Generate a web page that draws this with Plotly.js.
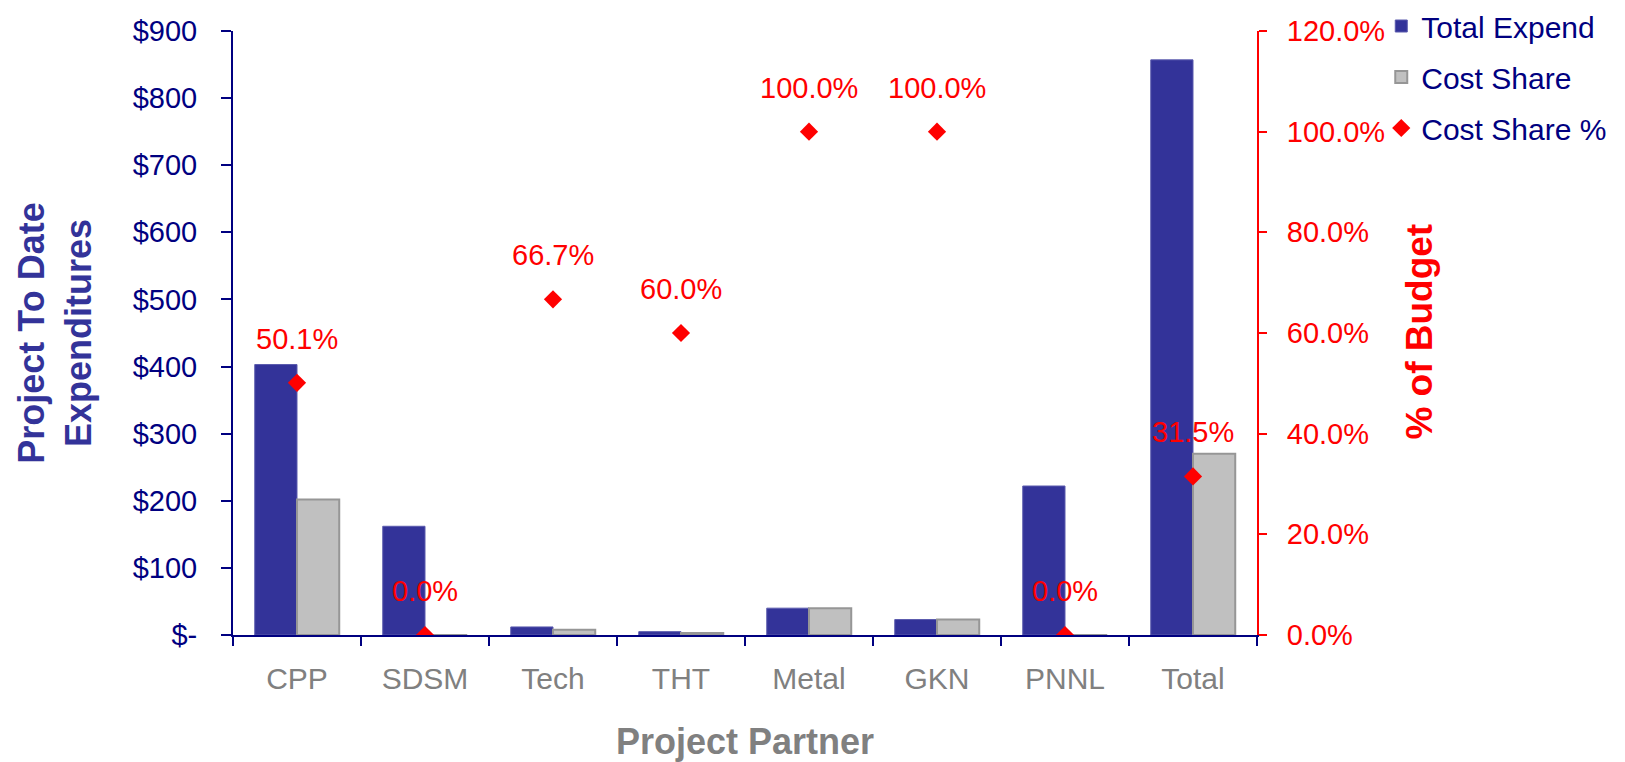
<!DOCTYPE html>
<html>
<head>
<meta charset="utf-8">
<script src="https://cdn.plot.ly/plotly-3.0.1.min.js"></script>
<style>
  html, body { margin: 0; padding: 0; background: #ffffff; }
  #chart { width: 1625px; height: 762px; }
</style>
</head>
<body>
<div id="chart"></div>
<script>
// Project partners along the category axis
const categories = ['CPP', 'SDSM', 'Tech', 'THT', 'Metal', 'GKN', 'PNNL', 'Total'];

// Expenditures to date ($)
const totalExpend = [403, 162, 12, 5, 40, 23, 222, 857];
const costShare = [202, 0, 8, 3, 40, 23, 0, 270];

// Cost share as a percent of budget
const costSharePct = [50.1, 0.0, 66.7, 60.0, 100.0, 100.0, 0.0, 31.5];

// Left axis tick labels
const dollarTickVals = [0, 100, 200, 300, 400, 500, 600, 700, 800, 900];
const dollarTickText = ['$-', '$100', '$200', '$300', '$400', '$500', '$600', '$700', '$800', '$900'];

// Right axis ticks
const pctTickVals = [0, 20, 40, 60, 80, 100, 120];
const pctTickText = pctTickVals.map(v => v.toFixed(1) + '%');

const FONT = 'Liberation Sans, Arial, Helvetica, sans-serif';
const NAVY = '#000080';
const INDIGO = '#333399';
const RED = '#ff0000';
const GRAY = '#808080';

const traces = [
  {
    type: 'bar',
    name: 'Total Expend',
    legendgroup: 'a',
    x: categories,
    y: totalExpend,
    marker: { color: INDIGO, line: { color: '#5a5aad', width: 1 } },
    hoverinfo: 'skip'
  },
  {
    type: 'bar',
    name: 'Cost Share',
    legendgroup: 'b',
    x: categories,
    y: costShare,
    marker: { color: '#c0c0c0', line: { color: '#969696', width: 2 } },
    hoverinfo: 'skip'
  },
  {
    type: 'scatter',
    mode: 'markers',
    name: 'Cost Share %',
    legendgroup: 'c',
    x: categories,
    y: costSharePct,
    yaxis: 'y2',
    marker: { symbol: 'diamond', color: RED, size: 14, line: { width: 0 } },
    hoverinfo: 'skip'
  }
];

// Percent data labels above each diamond
const pctLabels = categories.map((c, i) => ({
  x: c,
  y: costSharePct[i],
  xref: 'x',
  yref: 'y2',
  text: costSharePct[i].toFixed(1) + '%',
  showarrow: false,
  yshift: 44,
  font: { family: FONT, size: 29, color: RED }
}));

// Title of the secondary (percent) axis
const rightAxisTitle = {
  text: '% of Budget',
  xref: 'paper',
  yref: 'paper',
  x: 1.159,
  y: 0.502,
  xanchor: 'center',
  yanchor: 'middle',
  textangle: -90,
  showarrow: false,
  font: { family: FONT, size: 37, color: RED, weight: 'bold' }
};

const layout = {
  width: 1625,
  height: 762,
  autosize: false,
  margin: { l: 233, r: 368, t: 31, b: 127, pad: 0 },
  paper_bgcolor: '#ffffff',
  plot_bgcolor: '#ffffff',
  font: { family: FONT },
  barmode: 'group',
  bargap: 0.34,
  bargroupgap: 0,
  showlegend: true,
  legend: {
    xref: 'container',
    yref: 'paper',
    x: 0.85,
    y: 1.066,
    xanchor: 'left',
    yanchor: 'top',
    bgcolor: 'rgba(0,0,0,0)',
    font: { family: FONT, size: 30, color: NAVY },
    tracegroupgap: 9,
    traceorder: 'grouped'
  },
  xaxis: {
    type: 'category',
    showline: true,
    linecolor: NAVY,
    linewidth: 2,
    ticks: 'outside',
    tickson: 'boundaries',
    ticklen: 9,
    tickwidth: 2,
    tickcolor: NAVY,
    tickfont: { family: FONT, size: 30, color: GRAY },
    ticklabelstandoff: 16,
    showgrid: false,
    zeroline: false,
    fixedrange: true,
    title: {
      text: 'Project Partner',
      font: { family: FONT, size: 36, color: GRAY, weight: 'bold' },
      standoff: 36
    }
  },
  // inside half of the crossing category ticks
  xaxis2: {
    overlaying: 'x',
    anchor: 'y',
    type: 'linear',
    range: [-0.5, 7.5],
    tick0: -0.5,
    dtick: 1,
    ticks: 'inside',
    ticklen: 11,
    tickwidth: 2,
    tickcolor: NAVY,
    showticklabels: false,
    showline: false,
    showgrid: false,
    zeroline: false
  },
  yaxis: {
    range: [0, 900],
    tickvals: dollarTickVals,
    ticktext: dollarTickText,
    showline: true,
    linecolor: NAVY,
    linewidth: 2,
    ticks: 'outside',
    ticklen: 10,
    tickwidth: 2,
    tickcolor: NAVY,
    tickfont: { family: FONT, size: 29, color: NAVY },
    ticklabelstandoff: 18,
    showgrid: false,
    zeroline: false,
    fixedrange: true,
    title: {
      text: 'Project To Date<br>Expenditures',
      font: { family: FONT, size: 36, color: INDIGO, weight: 'bold' },
      standoff: 30
    }
  },
  yaxis2: {
    overlaying: 'y',
    side: 'right',
    anchor: 'x',
    range: [0, 120],
    tickvals: pctTickVals,
    ticktext: pctTickText,
    showline: true,
    linecolor: RED,
    linewidth: 2,
    ticks: 'outside',
    ticklen: 8,
    tickwidth: 2,
    tickcolor: RED,
    tickfont: { family: FONT, size: 29, color: RED },
    ticklabelstandoff: 14,
    showgrid: false,
    zeroline: false,
    fixedrange: true
  },
  // inside half of the crossing value ticks, left side
  yaxis3: {
    overlaying: 'y',
    anchor: 'x',
    side: 'left',
    range: [0, 900],
    tickvals: dollarTickVals,
    ticks: 'inside',
    ticklen: 9,
    tickwidth: 2,
    tickcolor: NAVY,
    showticklabels: false,
    showline: false,
    showgrid: false,
    zeroline: false
  },
  // inside half of the crossing percent ticks, right side
  yaxis4: {
    overlaying: 'y',
    anchor: 'x',
    side: 'right',
    range: [0, 120],
    tickvals: pctTickVals,
    ticks: 'inside',
    ticklen: 9,
    tickwidth: 2,
    tickcolor: RED,
    showticklabels: false,
    showline: false,
    showgrid: false,
    zeroline: false
  },
  annotations: pctLabels.concat([rightAxisTitle])
};

Plotly.newPlot('chart', traces, layout, { displayModeBar: false, staticPlot: true });
</script>
</body>
</html>
